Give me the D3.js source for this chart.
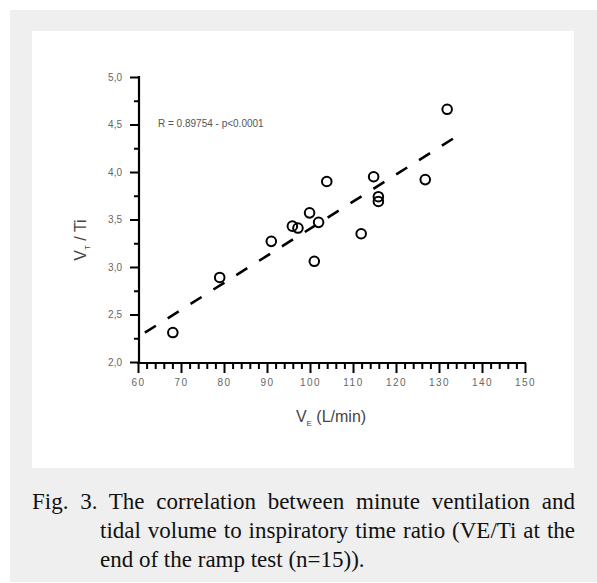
<!DOCTYPE html>
<html>
<head>
<meta charset="utf-8">
<script src="https://cdn.jsdelivr.net/npm/d3@7"></script>
<style>
  body { margin: 0; background: #fff; }
  svg { display: block; }
</style>
</head>
<body>
<svg id="chart" width="597" height="583"></svg>
<script>
// minute ventilation (L/min) vs VT/Ti
const veValues = [68.1, 79.0, 91.0, 95.9, 97.2, 99.9, 101.0, 102.0, 103.9, 111.9, 114.8, 115.9, 115.9, 126.8, 131.9];
const vtTiValues = [2.31, 2.89, 3.27, 3.43, 3.41, 3.57, 3.06, 3.47, 3.90, 3.35, 3.95, 3.74, 3.69, 3.92, 4.66];

// fitted line as drawn
const fitX = [61.6, 135.2];
const fitSlope = 0.0285;
const fitIntercept = 0.553;

const xTicks = [60, 70, 80, 90, 100, 110, 120, 130, 140, 150];
const yTicks = [2.0, 2.5, 3.0, 3.5, 4.0, 4.5, 5.0];
const captionLines = [
    'Fig. 3. The correlation between minute ventilation and',
    'tidal volume to inspiratory time ratio (VE/Ti at the',
    'end of the ramp test (n=15)).'
];

const svg = d3.select('#chart');

// page panels
svg.append('rect').attr('x', 10).attr('y', 10).attr('width', 587).attr('height', 572).attr('fill', '#efefef');
svg.append('rect').attr('x', 32).attr('y', 31).attr('width', 542).attr('height', 437).attr('fill', '#fff');

const x = d3.scaleLinear().domain([60, 150]).range([138, 525]);
const y = d3.scaleLinear().domain([2, 5]).range([362, 77]);

// minor ticks
const xMinor = d3.range(60, 150.1, 2).filter(v => v % 10 !== 0);
const yMinor = d3.range(2.25, 5, 0.5);

svg.append('g')
    .attr('transform', 'translate(0,' + 363 + ')')
    .call(d3.axisBottom(x).tickValues(xMinor).tickSize(6).tickFormat(''))
    .call(g => g.select('.domain').remove())
    .call(g => g.selectAll('line').attr('stroke', '#000').attr('stroke-width', 2));

svg.append('g')
    .attr('transform', 'translate(139,0)')
    .call(d3.axisLeft(y).tickValues(yMinor).tickSize(5).tickFormat(''))
    .call(g => g.select('.domain').remove())
    .call(g => g.selectAll('line').attr('stroke', '#000').attr('stroke-width', 2));

// major ticks + labels
const xAxis = svg.append('g')
    .attr('transform', 'translate(0,' + 363 + ')')
    .call(d3.axisBottom(x).tickValues(xTicks).tickSize(10).tickSizeOuter(0).tickPadding(6).tickFormat(d3.format('d')));
xAxis.select('.domain').attr('stroke', '#000').attr('stroke-width', 2.2).attr('d', 'M137,0H526');
xAxis.selectAll('line').attr('stroke', '#000').attr('stroke-width', 2);
xAxis.selectAll('text')
    .attr('fill', '#666').attr('font-family', 'Liberation Sans, Arial, sans-serif')
    .attr('font-size', 10).attr('letter-spacing', 1.5);

const yAxis = svg.append('g')
    .attr('transform', 'translate(139,0)')
    .call(d3.axisLeft(y).tickValues(yTicks).tickSize(9).tickSizeOuter(0).tickPadding(8)
        .tickFormat(d => d3.format('.1f')(d).replace('.', ',')));
yAxis.select('.domain').attr('stroke', '#000').attr('stroke-width', 2.2).attr('d', 'M0,76V364');
yAxis.selectAll('line').attr('stroke', '#000').attr('stroke-width', 2);
yAxis.selectAll('text')
    .attr('fill', '#666').attr('font-family', 'Liberation Sans, Arial, sans-serif')
    .attr('font-size', 10);

// axis titles
const xt = svg.append('text')
    .attr('x', 331).attr('y', 422)
    .attr('text-anchor', 'middle')
    .attr('fill', '#444').attr('font-family', 'Liberation Sans, Arial, sans-serif')
    .attr('font-size', 16);
xt.append('tspan').text('V');
xt.append('tspan').attr('font-size', 8).attr('dy', 4).text('E');
xt.append('tspan').attr('dy', -4).text(' (L/min)');

const yt = svg.append('text')
    .attr('transform', 'translate(86,240) rotate(-90)')
    .attr('text-anchor', 'middle')
    .attr('fill', '#444').attr('font-family', 'Liberation Sans, Arial, sans-serif')
    .attr('font-size', 16);
yt.append('tspan').text('V');
yt.append('tspan').attr('font-size', 8).attr('dy', 4).text('T');
yt.append('tspan').attr('dy', -4).text(' / Ti');

// annotation
svg.append('text')
    .attr('x', 158).attr('y', 127)
    .attr('fill', '#555').attr('font-family', 'Liberation Sans, Arial, sans-serif')
    .attr('font-size', 10)
    .text('R = 0.89754 - p<0.0001');

// regression line
svg.append('line')
    .attr('x1', x(fitX[0])).attr('y1', y(fitIntercept + fitSlope * fitX[0]))
    .attr('x2', x(fitX[1])).attr('y2', y(fitIntercept + fitSlope * fitX[1]))
    .attr('stroke', '#000').attr('stroke-width', 2.6)
    .attr('stroke-dasharray', '13,14');

// points
svg.selectAll('.pt')
    .data(veValues.map((v, i) => [v, vtTiValues[i]]))
    .enter().append('circle')
    .attr('class', 'pt')
    .attr('cx', d => x(d[0]))
    .attr('cy', d => y(d[1]))
    .attr('r', 4.8)
    .attr('fill', 'none')
    .attr('stroke', '#000')
    .attr('stroke-width', 2);

// caption, justified for the first two lines
const capX = [32, 100, 100];
const capY = [509, 538, 567];
captionLines.forEach((line, i) => {
    const t = svg.append('text')
        .attr('x', capX[i]).attr('y', capY[i])
        .attr('fill', '#111').attr('font-family', 'Liberation Serif, Times New Roman, serif')
        .attr('font-size', 23)
        .text(line);
    if (i < 2) {
        const natural = t.node().getComputedTextLength();
        const gaps = line.split(' ').length - 1;
        const extra = (575 - capX[i] - natural) / gaps;
        t.attr('word-spacing', extra);
    }
});
</script>
</body>
</html>
